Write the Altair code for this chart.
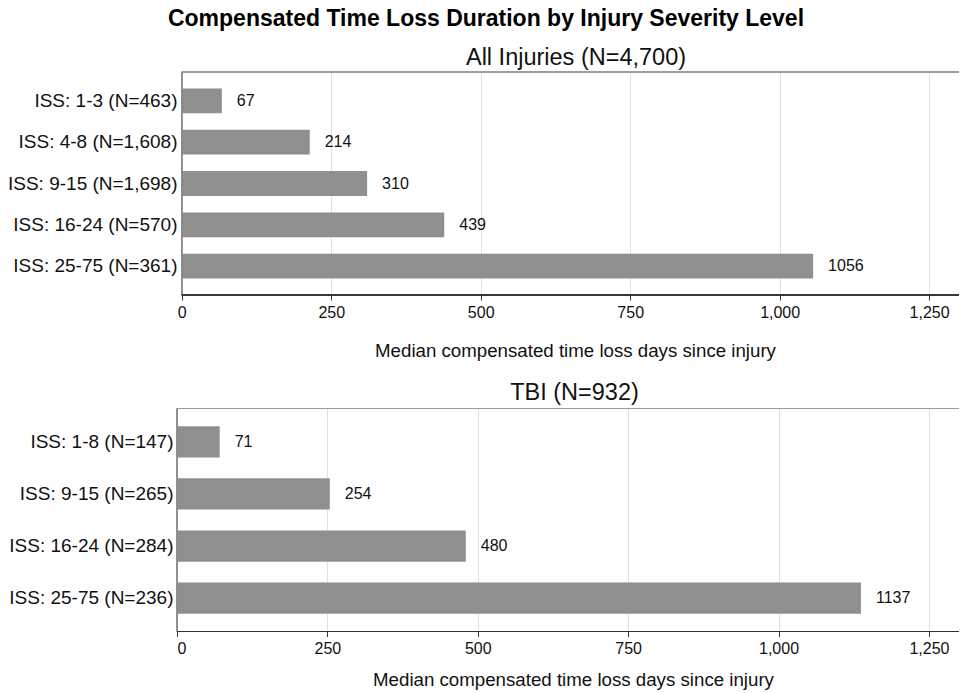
import altair as alt
import pandas as pd

# ---- data ----
top_labels = ["ISS: 1-3 (N=463)", "ISS: 4-8 (N=1,608)", "ISS: 9-15 (N=1,698)",
              "ISS: 16-24 (N=570)", "ISS: 25-75 (N=361)"]
top_values = [67, 214, 310, 439, 1056]
bot_labels = ["ISS: 1-8 (N=147)", "ISS: 9-15 (N=265)", "ISS: 16-24 (N=284)",
              "ISS: 25-75 (N=236)"]
bot_values = [71, 254, 480, 1137]
x_ticks = [0, 250, 500, 750, 1000, 1250]
x_max = 1300

MAIN_TITLE = "Compensated Time Loss Duration by Injury Severity Level"
TOP_TITLE = "All Injuries (N=4,700)"
BOT_TITLE = "TBI (N=932)"
AXIS_TITLE = "Median compensated time loss days since injury"
FONT = "Liberation Sans"
H = 223


def panel(labels, values, title, width, x_min, pad_outer, label_pad,
          title_dx, title_offset, axis_title_x, axis_title_pad):
    df = pd.DataFrame({"group": labels, "days": values})
    x = alt.X(
        "days:Q",
        scale=alt.Scale(domain=[x_min, x_max], nice=False, zero=False),
        axis=alt.Axis(
            values=x_ticks, format=",d", title=AXIS_TITLE, grid=True,
            gridColor="#e0e0e0", domain=False, tickColor="#333333",
            tickSize=5, labelFontSize=16, labelPadding=4, labelColor="#111111",
            titleFontSize=18.7, titleFontWeight="normal",
            titlePadding=axis_title_pad,
            titleX=axis_title_x, titleColor="#111111",
        ),
    )
    y = alt.Y(
        "group:N", sort=labels,
        scale=alt.Scale(paddingInner=0.4, paddingOuter=pad_outer),
        axis=alt.Axis(title=None, ticks=False, domain=False,
                      labelFontSize=19, labelPadding=label_pad,
                      labelColor="#111111", grid=False, labelLimit=400),
    )
    bars = alt.Chart(df).mark_bar(color="#8f8f8f").encode(x=x, y=y)
    text = alt.Chart(df).mark_text(
        align="left", baseline="middle", dx=15, fontSize=16, color="#111111"
    ).encode(
        x="days:Q",
        y=alt.Y("group:N", sort=labels),
        text=alt.Text("days:Q", format="d"),
    )
    frame_top = alt.Chart(df).mark_rule(color="#9a9a9a").encode(
        x=alt.datum(0), x2=alt.value(width), y=alt.value(0)
    )
    frame_left = alt.Chart(df).mark_rule(color="#8a8a8a").encode(
        x=alt.datum(0), y=alt.value(0), y2=alt.value(H)
    )
    frame_bottom = alt.Chart(df).mark_rule(color="#333333").encode(
        x=alt.datum(0), x2=alt.value(width), y=alt.value(H)
    )
    return alt.layer(bars, text, frame_top, frame_left, frame_bottom).properties(
        width=width, height=H,
        title=alt.TitleParams(title, fontSize=23.5, fontWeight="normal",
                              color="#111111", dx=title_dx,
                              offset=title_offset),
    )


top = panel(top_labels, top_values, TOP_TITLE, 782, -8, 0.4, 0,
            8, 2, 398, 21)
bot = panel(bot_labels, bot_values, BOT_TITLE, 782, 0, 0.34, 4,
            6.5, 4, 396, 14)

chart = alt.concat(top, bot, columns=1, spacing=20.5).properties(
    title=alt.TitleParams(MAIN_TITLE, fontSize=23, fontWeight="bold",
                          color="#000000", anchor="middle", dx=2.5, offset=15),
    padding={"left": 7, "top": 8, "right": 0, "bottom": 0},
).resolve_scale(x="independent", y="independent").configure(
    font=FONT,
).configure_view(stroke=None)

chart.save("out.html", embed_options={"renderer": "svg", "actions": False})
